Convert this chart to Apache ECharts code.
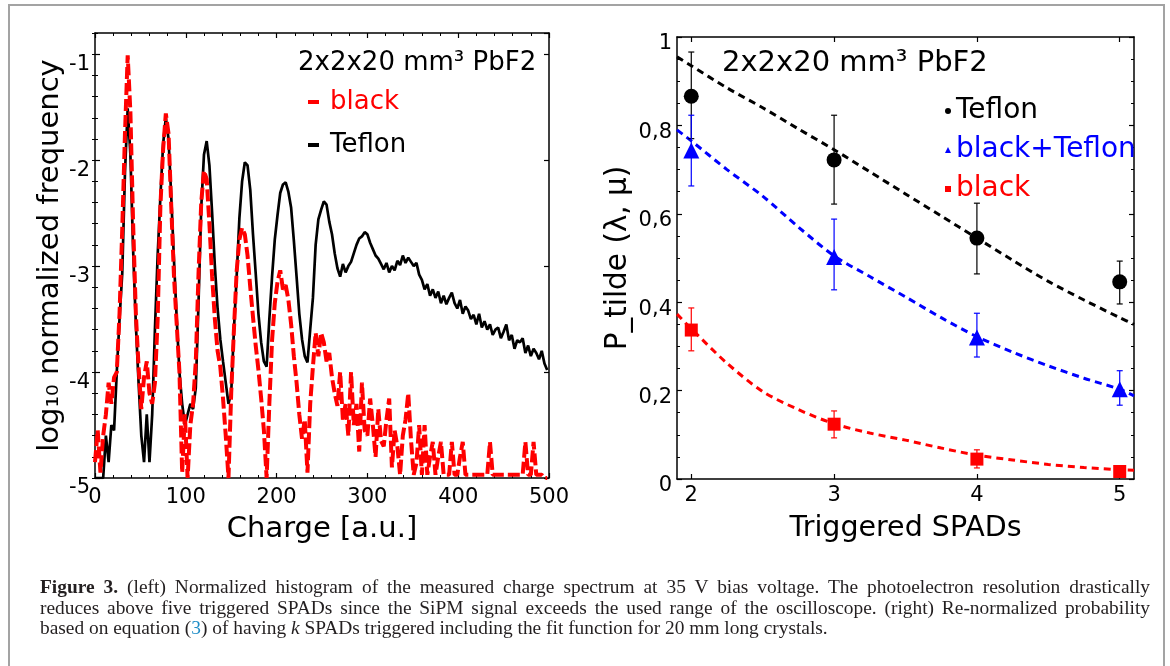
<!DOCTYPE html>
<html>
<head>
<meta charset="utf-8">
<title>Figure 3</title>
<script src="https://cdn.jsdelivr.net/npm/echarts@6.0.0/dist/echarts.min.js"></script>
<style>
  html, body { margin: 0; padding: 0; background: #fff; }
  #wrap { position: relative; width: 1170px; height: 666px; overflow: hidden; }
  #frame { position: absolute; left: 8px; top: 4px; width: 1157px; height: 720px; border: 2px solid #a3a3a3; box-sizing: border-box; }
  #chart { position: absolute; left: 0; top: 0; width: 1170px; height: 666px; }
  #caption { position: absolute; left: 40px; top: 577px; width: 1110px; font-family: "Liberation Serif", serif; font-size: 19.4px; line-height: 20.5px; color: #231f20; }
  #caption .j { text-align: justify; text-align-last: justify; }
  #caption .ref { color: #1f8dc7; }
</style>
</head>
<body>
<div id="wrap">
  <div id="frame"></div>
  <div id="chart"></div>
  <div id="caption">
    <div class="j"><b>Figure 3.</b> (left) Normalized histogram of the measured charge spectrum at 35 V bias voltage. The photoelectron resolution drastically</div>
    <div class="j">reduces above five triggered SPADs since the SiPM signal exceeds the used range of the oscilloscope. (right) Re-normalized probability</div>
    <div>based on equation (<span class="ref">3</span>) of having <i>k</i> SPADs triggered including the fit function for 20 mm long crystals.</div>
  </div>
</div>
<script>
  // left panel: charge bins (a.u.) and log10 of the normalized frequency
  var chargeBins = [
    0, 3, 6, 9, 12, 15, 18, 21, 24, 27,
    30, 33, 36, 39, 42, 45, 48, 51, 54, 57,
    60, 63, 66, 69, 72, 75, 78, 81, 84, 87,
    90, 93, 96, 99, 102, 105, 108, 111, 114, 117,
    120, 123, 126, 129, 132, 135, 138, 141, 144, 147,
    150, 153, 156, 159, 162, 165, 168, 171, 174, 177,
    180, 183, 186, 189, 192, 195, 198, 201, 204, 207,
    210, 213, 216, 219, 222, 225, 228, 231, 234, 237,
    240, 243, 246, 249, 252, 255, 258, 261, 264, 267,
    270, 273, 276, 279, 282, 285, 288, 291, 294, 297,
    300, 303, 306, 309, 312, 315, 318, 321, 324, 327,
    330, 333, 336, 339, 342, 345, 348, 351, 354, 357,
    360, 363, 366, 369, 372, 375, 378, 381, 384, 387,
    390, 393, 396, 399, 402, 405, 408, 411, 414, 417,
    420, 423, 426, 429, 432, 435, 438, 441, 444, 447,
    450, 453, 456, 459, 462, 465, 468, 471, 474, 477,
    480, 483, 486, 489, 492, 495, 498
  ];
  var teflonLog = [
    -5, -5, -5, -5, -4.6, -4.85, -4.5, -4.55, -4.0, -3.5,
    -3.07, -2.12, -1.51, -1.95, -2.85, -3.55, -4.1, -4.6, -4.85, -4.4,
    -4.85, -4.4, -3.6, -2.9, -2.35, -1.85, -1.6, -1.8, -2.35, -2.95,
    -3.5, -4.0, -4.3, -4.5, -4.4, -4.3, -4.35, -4.15, -3.35, -2.45,
    -1.95, -1.82, -2.05, -2.5, -3.0, -3.4, -3.69, -3.9, -4.1, -4.3,
    -4.2, -3.6, -3.1, -2.55, -2.2, -2.02, -2.05, -2.28, -2.7, -3.07,
    -3.45, -3.72, -3.9, -3.95, -3.5, -3.1, -2.75, -2.52, -2.31, -2.23,
    -2.21, -2.3, -2.45, -2.76, -3.1, -3.45, -3.69, -3.85, -3.91, -3.6,
    -3.3, -2.8, -2.56, -2.47, -2.39, -2.42, -2.58, -2.7, -2.88, -3.02,
    -3.1, -2.98, -3.06, -3.0, -2.96, -2.88, -2.8, -2.74, -2.72, -2.68,
    -2.7, -2.78, -2.84, -2.9, -2.93, -2.98, -3.03, -2.97, -3.06, -3.0,
    -3.04, -2.95, -2.99, -2.9, -2.97, -2.92, -2.96, -3.0, -2.97, -3.08,
    -3.13, -3.22, -3.17, -3.28, -3.22, -3.3, -3.24, -3.35, -3.28, -3.36,
    -3.3, -3.25, -3.35, -3.4, -3.32, -3.45, -3.38, -3.42, -3.5, -3.46,
    -3.55, -3.45, -3.58, -3.52, -3.6, -3.55, -3.65, -3.6, -3.58, -3.68,
    -3.62, -3.55, -3.7, -3.65, -3.78, -3.7, -3.72, -3.68, -3.82, -3.75,
    -3.85, -3.78, -3.82, -3.88, -3.8, -3.92, -3.98
  ];
  var blackLog = [
    -4.85, -4.55, -4.95, -4.6, -4.4, -4.1, -4.3, -4.05, -4.0, -3.45,
    -2.65, -1.75, -1.01, -1.55, -2.6, -3.45, -3.95, -4.35, -4.05, -3.9,
    -4.2, -4.3, -4.1, -3.5, -2.44, -1.9, -1.56, -1.75, -2.44, -3.1,
    -3.55, -4.0, -4.95, -4.4, -5.0, -4.5, -4.3, -3.9, -3.07, -2.4,
    -2.1, -2.18, -2.6, -3.1, -3.5, -3.8, -3.95, -4.25, -4.6, -5.0,
    -4.2, -3.6, -3.05, -2.75, -2.64, -2.7, -2.9, -3.2, -3.48, -3.75,
    -3.98, -4.25, -4.55, -5.0, -4.3, -3.7, -3.35, -3.15, -3.04, -3.22,
    -3.18, -3.32, -3.55, -3.85, -4.1, -4.4, -4.63, -4.45, -4.95, -4.3,
    -3.95, -3.63, -3.85, -3.63, -3.72, -3.9, -3.82, -4.05, -4.2, -4.32,
    -4.0, -4.45, -4.3, -4.6, -4.0, -4.5, -4.3, -4.75, -4.1, -4.55,
    -4.6, -4.25, -4.5, -4.8, -4.35, -4.65, -4.7, -4.45, -4.25, -4.9,
    -4.55, -4.7, -4.97, -4.6, -4.45, -4.2, -4.64, -4.97, -4.86, -4.5,
    -4.97, -4.5, -4.97, -4.8, -4.66, -4.97, -4.8, -4.66, -4.97, -4.97,
    -4.97, -4.66, -4.97, -4.97, -4.8, -4.66, -4.97, -4.97, -4.97, -4.97,
    -4.97, -4.97, -4.97, -4.97, -4.97, -4.66, -4.97, -4.97, -4.97, -4.97,
    -4.97, -4.97, -4.97, -4.97, -4.97, -4.97, -4.97, -4.97, -4.66, -4.97,
    -4.97, -4.66, -4.97, -4.97, -4.97, -5, -5
  ];

  // right panel: triggered SPADs, measured points with error bars, fits
  var spadK = [2, 3, 4, 5];
  var teflonP = [0.866, 0.722, 0.545, 0.446];
  var teflonLo = [0.77, 0.622, 0.464, 0.396];
  var teflonHi = [0.966, 0.823, 0.624, 0.493];
  var mixP = [0.743, 0.502, 0.32, 0.203];
  var mixLo = [0.663, 0.428, 0.276, 0.167];
  var mixHi = [0.823, 0.588, 0.375, 0.245];
  var blackP = [0.337, 0.124, 0.045, 0.017];
  var blackLo = [0.29, 0.093, 0.025, 0.009];
  var blackHi = [0.387, 0.154, 0.066, 0.025];
  var fitK = [1.9, 2, 2.25, 2.5, 2.75, 3, 3.25, 3.5, 3.75, 4, 4.25, 4.5, 4.75, 5, 5.1];
  var teflonFit = [0.955, 0.935, 0.885, 0.84, 0.792, 0.745, 0.695, 0.645, 0.595, 0.545, 0.495, 0.447, 0.405, 0.365, 0.35];
  var mixFit = [0.79, 0.765, 0.70, 0.64, 0.57, 0.505, 0.458, 0.412, 0.365, 0.322, 0.287, 0.256, 0.228, 0.203, 0.188];
  var blackFit = [0.373, 0.34, 0.262, 0.198, 0.157, 0.125, 0.104, 0.088, 0.07, 0.054, 0.043, 0.033, 0.026, 0.021, 0.02];

  var FONT = 'DejaVu Sans';
  var RED = '#ff0000', BLUE = '#0000ff', BLACK = '#000000';

  function zip(xs, ys) {
    return xs.map(function (x, i) { return [x, ys[i]]; });
  }

  // frame axis: line + inward ticks, no labels
  function frameAxis(extra) {
    var ax = {
      type: 'value',
      axisLine: { show: true, onZero: false, lineStyle: { color: BLACK, width: 1.5 } },
      axisTick: { show: true, inside: true, length: 5, lineStyle: { color: BLACK, width: 1.2 } },
      axisLabel: { show: false },
      splitLine: { show: false }
    };
    return Object.assign(ax, extra);
  }
  // minor-tick-only overlay axis
  function minorAxis(extra) {
    var ax = {
      type: 'value',
      axisLine: { show: false },
      axisTick: { show: true, inside: true, length: 3, lineStyle: { color: BLACK, width: 1 } },
      axisLabel: { show: false },
      splitLine: { show: false }
    };
    return Object.assign(ax, extra);
  }

  var tickLabel = { show: true, color: BLACK, fontFamily: FONT, fontSize: 21 };

  function errorBars(name, lo, hi, color) {
    return {
      type: 'custom',
      name: name + ' err',
      xAxisIndex: 2,
      yAxisIndex: 4,
      encode: { x: 0, y: [1, 2] },
      data: spadK.map(function (k, i) { return [k, lo[i], hi[i]]; }),
      renderItem: function (params, api) {
        var top = api.coord([api.value(0), api.value(2)]);
        var bot = api.coord([api.value(0), api.value(1)]);
        var cap = 3;
        var st = { stroke: color, lineWidth: 1.2 };
        return {
          type: 'group',
          children: [
            { type: 'line', shape: { x1: top[0], y1: top[1], x2: bot[0], y2: bot[1] }, style: st },
            { type: 'line', shape: { x1: top[0] - cap, y1: top[1], x2: top[0] + cap, y2: top[1] }, style: st },
            { type: 'line', shape: { x1: bot[0] - cap, y1: bot[1], x2: bot[0] + cap, y2: bot[1] }, style: st }
          ]
        };
      },
      z: 3
    };
  }

  function fitLine(name, ys, color) {
    return {
      type: 'line',
      name: name,
      xAxisIndex: 2,
      yAxisIndex: 4,
      data: zip(fitK, ys),
      smooth: 0.3,
      showSymbol: false,
      lineStyle: { color: color, width: 3, type: [7, 5] },
      itemStyle: { color: color },
      z: 2
    };
  }

  function points(name, ys, symbol, size, color) {
    return {
      type: 'scatter',
      name: name,
      xAxisIndex: 2,
      yAxisIndex: 4,
      data: zip(spadK, ys),
      symbol: symbol,
      symbolSize: size,
      itemStyle: { color: color, opacity: 1 },
      z: 4
    };
  }

  var chart = echarts.init(document.getElementById('chart'), null, { renderer: 'canvas' });

  var option = {
    animation: false,
    backgroundColor: 'transparent',
    textStyle: { fontFamily: FONT },
    title: [
      { text: '2x2x20 mm³ PbF2', left: 298, top: 50, padding: 0,
        textStyle: { fontFamily: FONT, fontSize: 26, lineHeight: 26, fontWeight: 'normal', color: BLACK } },
      { text: '2x2x20 mm³ PbF2', left: 722, top: 49, padding: 0,
        textStyle: { fontFamily: FONT, fontSize: 29, lineHeight: 29, fontWeight: 'normal', color: BLACK } }
    ],
    legend: [
      {
        orient: 'vertical', left: 308, top: 89, padding: 0,
        itemWidth: 11, itemHeight: 4, itemGap: 17, icon: 'rect', selectedMode: false,
        textStyle: { fontFamily: FONT, fontSize: 26, lineHeight: 26, padding: [0, 0, 0, 6] },
        data: [
          { name: 'black', itemStyle: { color: RED, borderWidth: 0 }, textStyle: { color: RED } },
          { name: 'Teflon', itemStyle: { color: BLACK, borderWidth: 0 }, textStyle: { color: BLACK } }
        ]
      },
      {
        orient: 'vertical', left: 945, top: 97, padding: 0,
        itemWidth: 6, itemHeight: 6, itemGap: 11, selectedMode: false,
        textStyle: { fontFamily: FONT, fontSize: 28, lineHeight: 28 },
        data: [
          { name: 'Teflon', icon: 'circle', itemStyle: { color: BLACK, borderWidth: 0 }, textStyle: { color: BLACK } },
          { name: 'black+Teflon', icon: 'triangle', itemStyle: { color: BLUE, borderWidth: 0 }, textStyle: { color: BLUE } },
          { name: 'black', icon: 'rect', itemStyle: { color: RED, borderWidth: 0 }, textStyle: { color: RED } }
        ]
      }
    ],
    grid: [
      { left: 95, top: 33, width: 454, height: 445 },
      { left: 677, top: 37, width: 457, height: 442 }
    ],
    xAxis: [
      frameAxis({
        gridIndex: 0, position: 'bottom', min: 0, max: 500, interval: 100,
        minorTick: { show: true, splitNumber: 5, length: 3, lineStyle: { color: BLACK, width: 1 } },
        axisLabel: Object.assign({ margin: 9 }, tickLabel),
        name: 'Charge [a.u.]', nameLocation: 'middle', nameGap: 37,
        nameTextStyle: { fontFamily: FONT, fontSize: 29, color: BLACK }
      }),
      frameAxis({
        gridIndex: 0, position: 'top', min: 0, max: 500, interval: 100,
        minorTick: { show: true, splitNumber: 5, length: 3, lineStyle: { color: BLACK, width: 1 } }
      }),
      frameAxis({
        gridIndex: 1, position: 'bottom', min: 1.9, max: 5.1,
        axisTick: { show: true, inside: true, length: 5, customValues: spadK, lineStyle: { color: BLACK, width: 1.2 } },
        axisLabel: Object.assign({ margin: 6, customValues: spadK }, tickLabel),
        name: 'Triggered SPADs', nameLocation: 'middle', nameGap: 35,
        nameTextStyle: { fontFamily: FONT, fontSize: 28.5, color: BLACK }
      }),
      frameAxis({
        gridIndex: 1, position: 'top', min: 1.9, max: 5.1,
        axisTick: { show: true, inside: true, length: 5, customValues: spadK, lineStyle: { color: BLACK, width: 1.2 } }
      })
    ],
    yAxis: [
      frameAxis({
        gridIndex: 0, position: 'left', min: -5, max: -0.8, interval: 1,
        axisLabel: Object.assign({ margin: 5, verticalAlign: 'top', lineHeight: 20, showMaxLabel: false }, tickLabel),
        name: 'log₁₀ normalized frequency', nameLocation: 'middle', nameGap: 30,
        nameTextStyle: { fontFamily: FONT, fontSize: 29, color: BLACK }
      }),
      minorAxis({ gridIndex: 0, position: 'left', min: -5, max: -0.8, interval: 0.2 }),
      frameAxis({ gridIndex: 0, position: 'right', min: -5, max: -0.8, interval: 1 }),
      minorAxis({ gridIndex: 0, position: 'right', min: -5, max: -0.8, interval: 0.2 }),
      frameAxis({
        gridIndex: 1, position: 'left', min: 0, max: 1, interval: 0.2,
        minorTick: { show: true, splitNumber: 4, length: 3, lineStyle: { color: BLACK, width: 1 } },
        axisLabel: Object.assign({
          margin: 5, verticalAlign: 'top', lineHeight: 14,
          formatter: function (v) {
            if (v === 0 || v === 1) return String(v);
            return v.toFixed(1).replace('.', ',');
          }
        }, tickLabel),
        name: 'P_tilde (λ, μ)', nameLocation: 'middle', nameGap: 44,
        nameTextStyle: { fontFamily: FONT, fontSize: 29.5, color: BLACK }
      }),
      frameAxis({
        gridIndex: 1, position: 'right', min: 0, max: 1, interval: 0.2,
        minorTick: { show: true, splitNumber: 4, length: 3, lineStyle: { color: BLACK, width: 1 } }
      })
    ],
    series: [
      {
        type: 'line', name: 'Teflon', xAxisIndex: 0, yAxisIndex: 0,
        data: zip(chargeBins, teflonLog), showSymbol: false,
        lineStyle: { color: BLACK, width: 2.7 }, itemStyle: { color: BLACK }, z: 2
      },
      {
        type: 'line', name: 'black', xAxisIndex: 0, yAxisIndex: 0,
        data: zip(chargeBins, blackLog), showSymbol: false,
        lineStyle: { color: RED, width: 4, type: [12, 4] }, itemStyle: { color: RED }, z: 3
      },
      fitLine('Teflon fit', teflonFit, BLACK),
      fitLine('black+Teflon fit', mixFit, BLUE),
      fitLine('black fit', blackFit, RED),
      errorBars('Teflon', teflonLo, teflonHi, BLACK),
      errorBars('black+Teflon', mixLo, mixHi, BLUE),
      errorBars('black', blackLo, blackHi, RED),
      points('Teflon', teflonP, 'circle', 15, BLACK),
      points('black+Teflon', mixP, 'triangle', 16, BLUE),
      points('black', blackP, 'rect', 13, RED)
    ]
  };

  chart.setOption(option);
</script>
</body>
</html>
